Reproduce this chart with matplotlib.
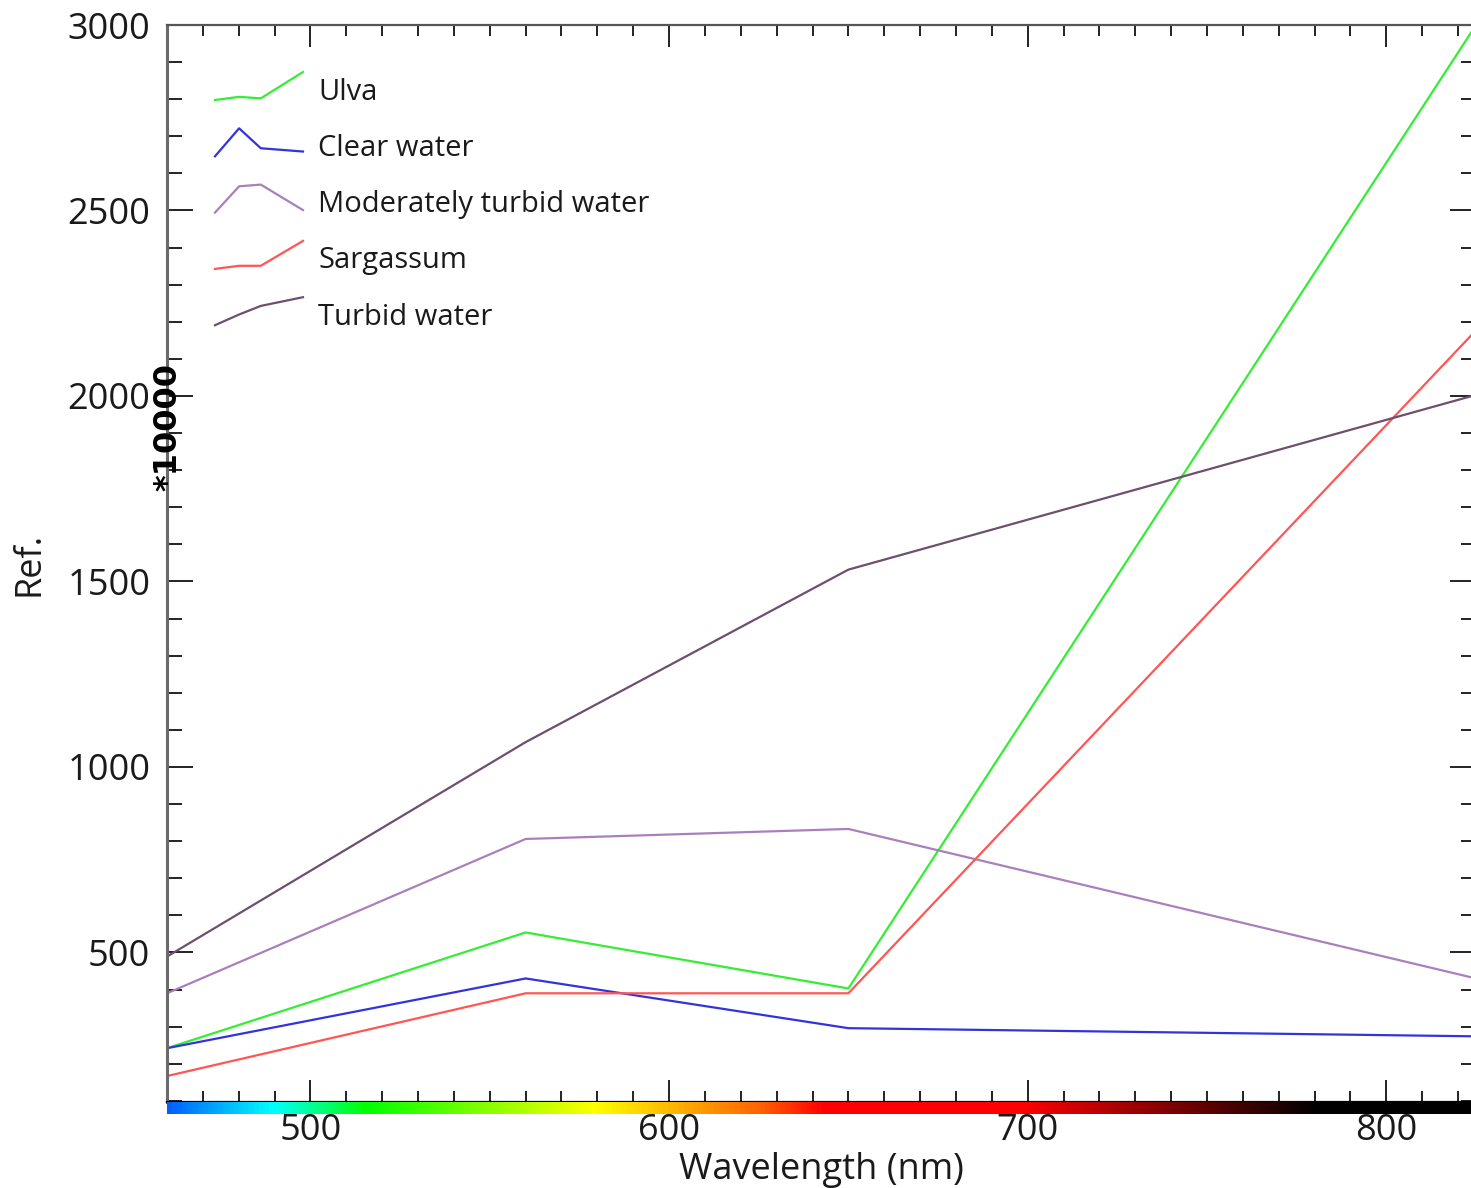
import numpy as np
import matplotlib
matplotlib.use("Agg")
import matplotlib.pyplot as plt
from matplotlib.colors import LinearSegmentedColormap
from matplotlib.ticker import MultipleLocator

# band centres (nm) and reflectance (*10000)
wavelength = [460, 560, 650, 825]
series_names = ["Ulva", "Clear water", "Moderately turbid water", "Sargassum", "Turbid water"]
ulva = [242, 554, 403, 3000]
clear_water = [242, 430, 296, 274]
moderate_turbid = [390, 806, 833, 430]
sargassum = [167, 390, 390, 2177]
turbid_water = [489, 1067, 1532, 2003]
series_values = [ulva, clear_water, moderate_turbid, sargassum, turbid_water]
series_colors = ["#33ee33", "#3333dd", "#aa80bb", "#ff5555", "#6e4f6e"]

# spectrum bar under the x axis
spec_nm = [460, 489, 515, 579, 625, 643, 698, 781, 825]
spec_col = ["#0060ff", "#00ffff", "#00ff00", "#ffff00", "#ff6400",
            "#ff0000", "#ff0000", "#000000", "#000000"]

W, H = 1471, 1188
fig = plt.figure(figsize=(W / 100, H / 100), dpi=100)
left, right, top, bottom = 167, 1476, 25, 1102
ax = fig.add_axes([left / W, 1 - bottom / H, (right - left) / W, (bottom - top) / H])

for vals, c in zip(series_values, series_colors):
    ax.plot(wavelength, vals, color=c, lw=1.6)

ax.set_xlim(460, 825)
ax.set_ylim(97, 3000)

ax.xaxis.set_major_locator(MultipleLocator(100))
ax.xaxis.set_minor_locator(MultipleLocator(10))
ax.yaxis.set_major_locator(MultipleLocator(500))
ax.yaxis.set_minor_locator(MultipleLocator(100))
ax.tick_params(axis="x", which="both", direction="in", top=True, bottom=True, width=1.4, color="#222222")
ax.tick_params(axis="y", which="both", direction="in", left=True, right=True, width=1.4, color="#222222")
ax.tick_params(axis="x", which="major", length=16, pad=8)
ax.tick_params(axis="x", which="minor", length=8)
ax.tick_params(axis="y", which="major", length=19, pad=12)
ax.tick_params(axis="y", which="minor", length=11)
for lab in ax.get_xticklabels() + ax.get_yticklabels():
    lab.set_fontfamily("Open Sans")
    lab.set_fontsize(26)
    lab.set_color("#1a1a1a")

ax.spines["right"].set_visible(False)
ax.spines["left"].set_color("#6a6a6a")
ax.spines["left"].set_linewidth(2.2)
ax.spines["top"].set_color("#555555")
ax.spines["top"].set_linewidth(1.6)
ax.spines["bottom"].set_color("#000000")
ax.spines["bottom"].set_linewidth(1.6)

ax.set_xlabel("Wavelength (nm)", fontfamily="Open Sans", fontsize=26, color="#1a1a1a")
ax.xaxis.set_label_coords(0.5, -(1170 - bottom) / (bottom - top), transform=ax.transAxes)
ax.xaxis.label.set_va("center")
ax.set_ylabel("Ref.", fontfamily="Open Sans", fontsize=26, color="#1a1a1a")
ax.yaxis.set_label_coords(-(left - 30) / (right - left), 0.5)
ax.yaxis.label.set_va("center")

# spectrum colour bar
cax = fig.add_axes([left / W, 1 - 1114 / H, (right - left) / W, 12 / H])
cmap = LinearSegmentedColormap.from_list(
    "spec", [((n - spec_nm[0]) / (spec_nm[-1] - spec_nm[0]), c) for n, c in zip(spec_nm, spec_col)])
grad = np.linspace(0, 1, 512).reshape(1, -1)
cax.imshow(grad, aspect="auto", cmap=cmap, extent=[spec_nm[0], spec_nm[-1], 0, 1])
cax.set_axis_off()

# legend with mini spectra as handles
hx0, hx1 = (215 - left) / (right - left), (303 - left) / (right - left)
wl = np.array(wavelength, dtype=float)
xn = hx0 + (wl - wl.min()) / (wl.max() - wl.min()) * (hx1 - hx0)
for i, (name, vals, c) in enumerate(zip(series_names, series_values, series_colors)):
    v = np.array(vals, dtype=float)
    ybot = 100 + 56.3 * i
    ypx = ybot - (v - v.min()) / (v.max() - v.min()) * 28
    yn = (bottom - ypx) / (bottom - top)
    ax.plot(xn, yn, color=c, lw=1.6, transform=ax.transAxes)
    ax.text((318 - left) / (right - left), (bottom - (92 + 56.3 * i)) / (bottom - top), name,
            transform=ax.transAxes, fontfamily="Open Sans", fontsize=21, va="center", ha="left",
            color="#1a1a1a")

fig.text(168 / W, 1 - 427 / H, "*10000", rotation=90, fontfamily="DejaVu Sans", fontweight="bold",
         fontsize=23, ha="center", va="center")

fig.savefig("out.png", dpi=100)
